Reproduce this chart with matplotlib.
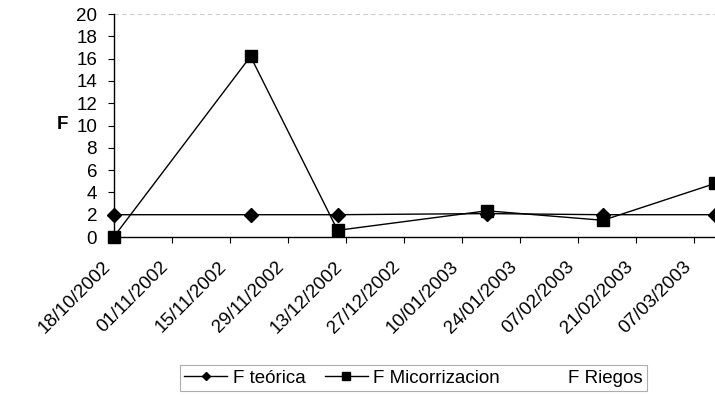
import datetime as dt

import matplotlib
matplotlib.use("Agg")
import matplotlib.pyplot as plt

# sampling dates and F values per series
fechas = [dt.date(2002, 10, 18), dt.date(2002, 11, 20), dt.date(2002, 12, 11),
          dt.date(2003, 1, 16), dt.date(2003, 2, 13), dt.date(2003, 3, 12)]
f_teorica = [2.0, 2.0, 2.0, 2.1, 2.0, 2.0]
f_micorrizacion = [0.0, 16.2, 0.6, 2.35, 1.5, 4.8]
f_riegos = []

# x ticks every two weeks
tick_fechas = [dt.date(2002, 10, 18) + dt.timedelta(days=14 * i) for i in range(11)]
tick_labels = [d.strftime("%d/%m/%Y") for d in tick_fechas]
y_ticks = list(range(0, 21, 2))

plt.rcParams.update({"font.family": ["Liberation Sans", "DejaVu Sans"],
                     "font.size": 13.5})

fig = plt.figure(figsize=(7.15, 3.96), dpi=100)
ax = fig.add_axes([0.159, 0.4015, 0.841, 0.563])

ax.plot(fechas, f_teorica, color="black", lw=1.0, marker="D", ms=7,
        label="F teórica", clip_on=False, zorder=3)
ax.plot(fechas, f_micorrizacion, color="black", lw=1.0, marker="s", ms=8,
        label="F Micorrizacion", clip_on=False, zorder=3)
ax.plot([], f_riegos, ls="none", label="F Riegos")

# faint upper border of the plot area
ax.axhline(20, color="#cccccc", lw=0.8, ls=(0, (4, 3)), zorder=1)

ax.set_ylim(0, 20)
ax.set_yticks(y_ticks)
ax.set_xlim(dt.date(2002, 10, 18), dt.date(2003, 3, 12))
# labels anchored at their lower right corner, pushed down by the pad
ax.set_xticks(tick_fechas, tick_labels, rotation=45, ha="right",
              va="bottom", rotation_mode="anchor")

for side in ("top", "right"):
    ax.spines[side].set_visible(False)
for side in ("left", "bottom"):
    ax.spines[side].set_linewidth(1.0)
ax.tick_params(direction="out", length=4, width=0.8, colors="black")
ax.tick_params(axis="y", pad=8)
ax.tick_params(axis="x", pad=20)

fig.text(0.087, 0.685, "F", fontsize=13.5, fontweight="bold",
         ha="center", va="center")

leg = fig.legend(loc="center", bbox_to_anchor=(0.578, 0.045), ncol=3,
                 frameon=True, fancybox=False, handlelength=2.3,
                 handletextpad=0.3, columnspacing=1.0, borderpad=0.25,
                 markerscale=0.65, fontsize=13.5)
leg.get_frame().set_edgecolor("#999999")
leg.get_frame().set_linewidth(0.8)

fig.savefig("out.png", dpi=100)
